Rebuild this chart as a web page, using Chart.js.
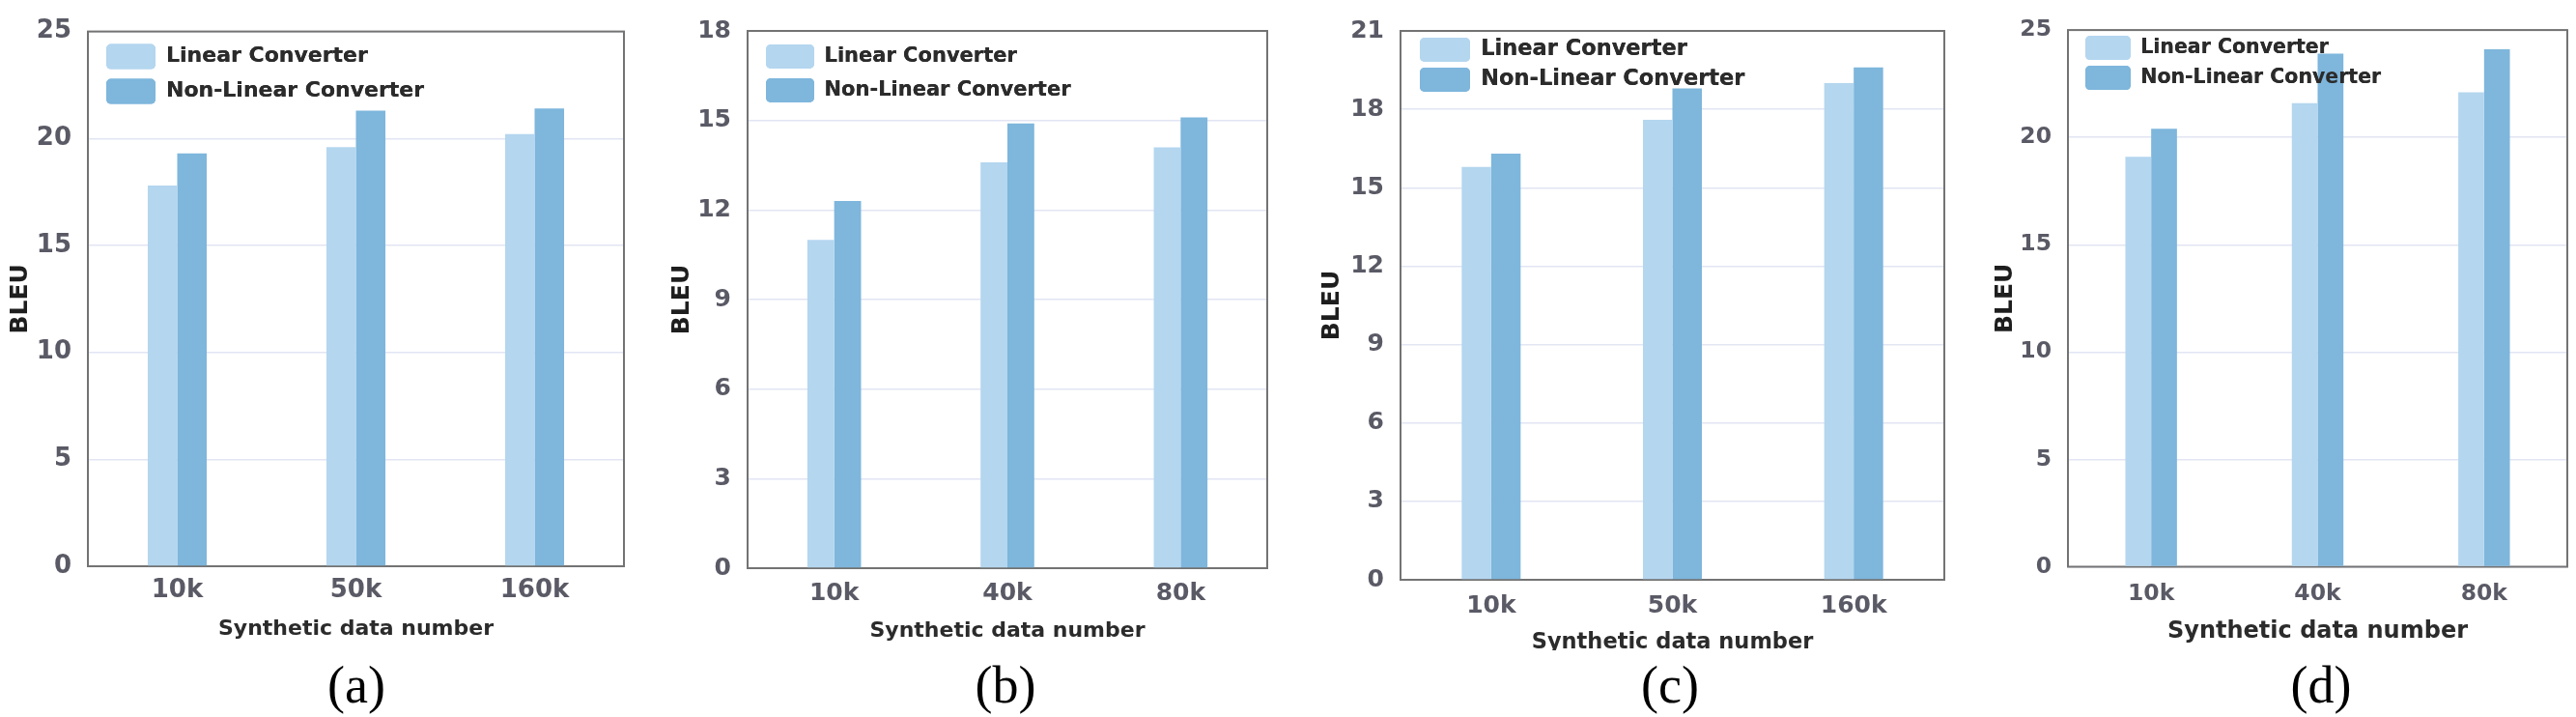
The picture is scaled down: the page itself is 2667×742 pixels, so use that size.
<!DOCTYPE html>
<html>
<head>
<meta charset="utf-8">
<title>BLEU vs synthetic data number</title>
<script src="https://cdn.jsdelivr.net/npm/chart.js@4.4.1/dist/chart.umd.min.js"></script>
<style>
    html, body { margin: 0; padding: 0; background: #ffffff; }
    #figure { position: relative; width: 2667px; height: 742px; background: #ffffff; overflow: hidden; }
    .panel { position: absolute; top: 0; overflow: hidden; }
    .caption {
        position: absolute; width: 200px; text-align: center;
        font-family: 'Liberation Serif', 'Times New Roman', serif;
        font-size: 54px; line-height: 54px; color: #000000;
    }
</style>
</head>
<body>
<div id="figure"></div>
<script>
const seriesNames = ['Linear Converter', 'Non-Linear Converter'];
const xAxisTitle = 'Synthetic data number';
const yAxisTitle = 'BLEU';
const captions = ['(a)', '(b)', '(c)', '(d)'];

const categoriesA = ['10k', '50k', '160k'];
const linearA = [17.8, 19.6, 20.2];
const nonLinearA = [19.3, 21.3, 21.4];

const categoriesB = ['10k', '40k', '80k'];
const linearB = [11.0, 13.6, 14.1];
const nonLinearB = [12.3, 14.9, 15.1];

const categoriesC = ['10k', '50k', '160k'];
const linearC = [15.8, 17.6, 19.0];
const nonLinearC = [16.3, 18.8, 19.6];

const categoriesD = ['10k', '40k', '80k'];
const linearD = [19.1, 21.6, 22.1];
const nonLinearD = [20.4, 23.9, 24.1];

const yMaxValues = [25, 18, 21, 25];
const yStepValues = [5, 3, 3, 5];

const panelData = [
    { labels: categoriesA, linear: linearA, nonLinear: nonLinearA },
    { labels: categoriesB, linear: linearB, nonLinear: nonLinearB },
    { labels: categoriesC, linear: linearC, nonLinear: nonLinearC },
    { labels: categoriesD, linear: linearD, nonLinear: nonLinearD }
];

// Page geometry of each panel (pixels)
const panelLayout = [
    { left: 0,    width: 670, clip: 742, yAxisW: 91,  padRight: 24, padTop: 24,   xAxisH: 114,
      yTitlePad: 6,  tickSize: 26, xTickPad: 10, xTitleSize: 22,   xTitlePad: 36,
      legend: { size: 22,   boxW: 51, boxH: 26, pad: 10, dx: 9,  dy: 3 }, catPct: 0.33,  captionX: 369 },
    { left: 680,  width: 660, clip: 742, yAxisW: 94,  padRight: 28, padTop: 26,   xAxisH: 112,
      yTitlePad: 11, tickSize: 25, xTickPad: 11, xTitleSize: 22,   xTitlePad: 34,
      legend: { size: 21,   boxW: 50, boxH: 25, pad: 10, dx: 9,  dy: 4 }, catPct: 0.31,  captionX: 1041 },
    { left: 1350, width: 680, clip: 673, yAxisW: 100, padRight: 17, padTop: 22,   xAxisH: 100,
      yTitlePad: 14, tickSize: 25, xTickPad: 12.5, xTitleSize: 22.5, xTitlePad: 21,
      legend: { size: 22.5, boxW: 52, boxH: 25, pad: 6,  dx: 14, dy: 1 }, catPct: 0.325, captionX: 1729 },
    { left: 2050, width: 617, clip: 742, yAxisW: 91,  padRight: 9,  padTop: 22.5, xAxisH: 113.5,
      yTitlePad: 11, tickSize: 23.5, xTickPad: 14.4, xTitleSize: 24, xTitlePad: 32,
      legend: { size: 20.5, boxW: 47, boxH: 25, pad: 6,  dx: 12, dy: 0 }, catPct: 0.31,  captionX: 2403 }
];

const CANVAS_HEIGHT = 700;
const FONT = "'DejaVu Sans', 'Open Sans', sans-serif";
const LIGHT_BLUE = '#b4d6ef';
const DARK_BLUE = '#7eb6dc';

// Grey frame round the plot area, under the bars
const framePlugin = {
    id: 'plotFrame',
    beforeDatasetsDraw(chart) {
        const { ctx, chartArea } = chart;
        ctx.save();
        ctx.strokeStyle = '#737373';
        ctx.lineWidth = 2;
        ctx.strokeRect(chartArea.left, chartArea.top,
            chartArea.right - chartArea.left, chartArea.bottom - chartArea.top);
        ctx.restore();
    }
};

// Legend sits inside the plot area (top left corner) and is drawn again above the bars
const legendPlacePlugin = {
    id: 'legendPlace',
    afterLayout(chart, args, opts) {
        const legend = chart.legend;
        if (!legend) return;
        const area = chart.chartArea;
        const h = legend.bottom - legend.top;
        legend.left = area.left + (opts.dx || 0);
        legend.top = area.top + (opts.dy || 0);
        legend.bottom = legend.top + h;
    },
    afterDatasetsDraw(chart) {
        if (chart.legend) chart.legend.draw();
    }
};

function buildPanel(index) {
    const layout = panelLayout[index];
    const data = panelData[index];
    const figure = document.getElementById('figure');

    const holder = document.createElement('div');
    holder.className = 'panel';
    holder.style.left = layout.left + 'px';
    holder.style.width = layout.width + 'px';
    holder.style.height = layout.clip + 'px';

    const canvas = document.createElement('canvas');
    canvas.width = layout.width;
    canvas.height = CANVAS_HEIGHT;
    canvas.style.width = layout.width + 'px';
    canvas.style.height = CANVAS_HEIGHT + 'px';
    holder.appendChild(canvas);
    figure.appendChild(holder);

    const caption = document.createElement('div');
    caption.className = 'caption';
    caption.style.left = (layout.captionX - 100) + 'px';
    caption.style.top = '682px';
    caption.textContent = captions[index];
    figure.appendChild(caption);

    const tickFont = { family: FONT, size: layout.tickSize, weight: 'bold' };

    return new Chart(canvas, {
        type: 'bar',
        data: {
            labels: data.labels,
            datasets: [{
                label: seriesNames[0],
                data: data.linear,
                backgroundColor: LIGHT_BLUE,
                borderWidth: 0,
                barPercentage: 1.0,
                categoryPercentage: layout.catPct
            }, {
                label: seriesNames[1],
                data: data.nonLinear,
                backgroundColor: DARK_BLUE,
                borderWidth: 0,
                barPercentage: 1.0,
                categoryPercentage: layout.catPct
            }]
        },
        options: {
            responsive: false,
            animation: false,
            devicePixelRatio: 1,
            layout: {
                padding: { left: 0, right: layout.padRight, top: layout.padTop, bottom: 0 }
            },
            scales: {
                x: {
                    grid: { display: false, drawTicks: false },
                    border: { display: false },
                    ticks: { font: tickFont, color: '#5a5a66', padding: layout.xTickPad },
                    title: {
                        display: true,
                        text: xAxisTitle,
                        color: '#2b2b2b',
                        font: { family: FONT, size: layout.xTitleSize, weight: 'bold' },
                        padding: { top: 0, bottom: layout.xTitlePad }
                    },
                    afterFit: (scale) => { scale.height = layout.xAxisH; }
                },
                y: {
                    min: 0,
                    max: yMaxValues[index],
                    grid: { color: '#e2e5f3', lineWidth: 1.5, drawTicks: false },
                    border: { display: false },
                    ticks: {
                        stepSize: yStepValues[index],
                        font: tickFont,
                        color: '#5a5a66',
                        padding: 17
                    },
                    title: {
                        display: true,
                        text: yAxisTitle,
                        color: '#1e1e1e',
                        font: { family: FONT, size: 25, weight: 'bold' },
                        padding: { top: layout.yTitlePad, bottom: 0 }
                    },
                    afterFit: (scale) => { scale.width = layout.yAxisW; }
                }
            },
            plugins: {
                legend: {
                    position: 'chartArea',
                    align: 'start',
                    labels: {
                        boxWidth: layout.legend.boxW,
                        boxHeight: layout.legend.boxH,
                        padding: layout.legend.pad,
                        useBorderRadius: true,
                        borderRadius: 5,
                        color: '#2b2b2b',
                        font: { family: FONT, size: layout.legend.size, weight: 'bold' }
                    }
                },
                legendPlace: { dx: layout.legend.dx, dy: layout.legend.dy },
                tooltip: { enabled: false }
            }
        },
        plugins: [framePlugin, legendPlacePlugin]
    });
}

document.addEventListener('DOMContentLoaded', function() {
    for (let i = 0; i < panelData.length; i++) {
        buildPanel(i);
    }
});
</script>
</body>
</html>
